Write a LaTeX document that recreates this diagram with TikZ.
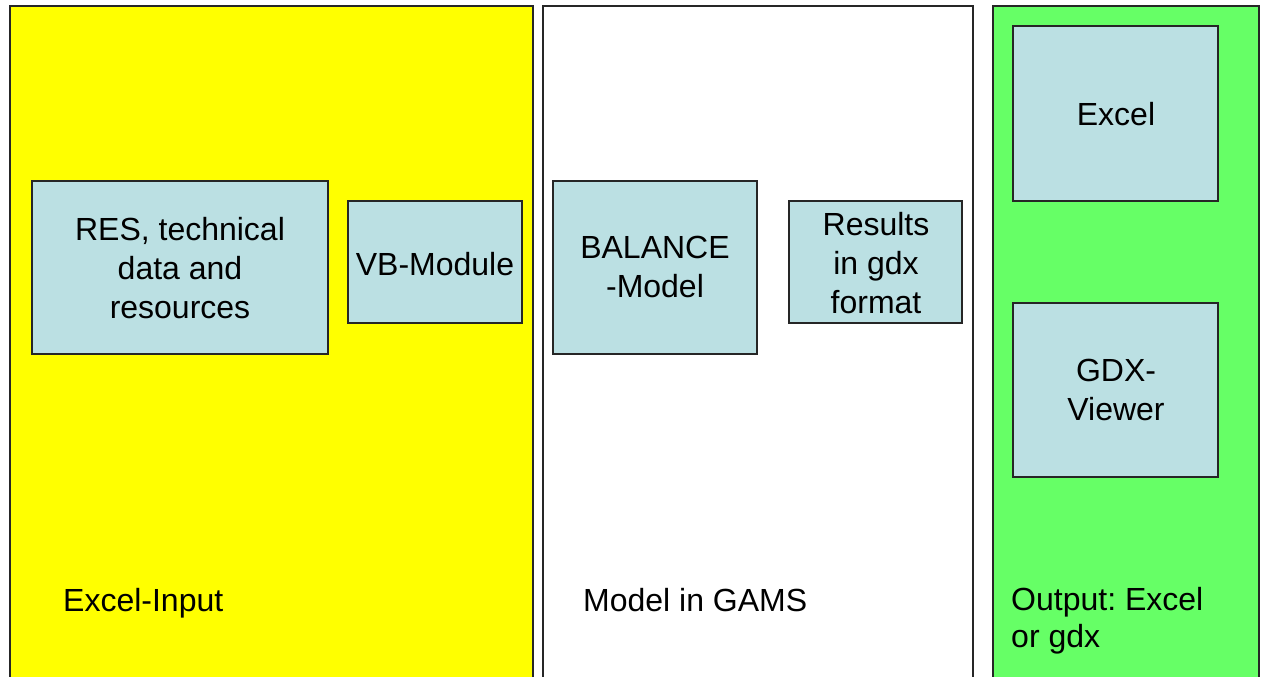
\documentclass[tikz,border=0pt]{standalone}
\usepackage{fontspec}
\setmainfont{Liberation Sans}
\definecolor{panelyellow}{HTML}{FFFF00}
\definecolor{panelgreen}{HTML}{66FF66}
\definecolor{boxblue}{HTML}{BBE0E3}
\begin{document}
\frenchspacing
\begin{tikzpicture}[x=1pt,y=-1pt,
  panel/.style={draw=black!85, line width=2pt},
  box/.style={draw=black!85, line width=1.2pt, fill=boxblue},
  boxtext/.style={align=center, font=\fontsize{32}{39}\selectfont, inner sep=0pt},
  lbl/.style={anchor=west, align=left, font=\fontsize{32}{37}\selectfont, inner sep=0pt}]
\useasboundingbox (0,0) rectangle (1262,677);
\clip (0,0) rectangle (1262,677);
\fill[white] (0,0) rectangle (1262,677);
% panels
\draw[panel, fill=panelyellow] (10,6) rectangle (533,700);
\draw[panel, fill=white] (543,6) rectangle (973,700);
\draw[panel, fill=panelgreen] (993,6) rectangle (1259,700);
% boxes
\draw[box] (32,181) rectangle (328,354);
\node[boxtext] (res) at (180,268) {RES, technical\\data and\\resources};
\draw[box] (348,201) rectangle (522,323);
\node[boxtext] (vb) at (435,264) {VB-Module};
\draw[box] (553,181) rectangle (757,354);
\node[boxtext] (bal) at (655,267) {BALANCE\\-Model};
\draw[box] (789,201) rectangle (962,323);
\node[boxtext] (resg) at (876,263) {Results\\in gdx\\format};
\draw[box] (1013,26) rectangle (1218,201);
\node[boxtext] (xl) at (1116,114) {Excel};
\draw[box] (1013,303) rectangle (1218,477);
\node[boxtext] (gdx) at (1116,390) {GDX-\\Viewer};
% labels
\node[lbl] (l1) at (63,603) {Excel-Input};
\node[lbl] (l2) at (583,600) {Model in GAMS};
\node[lbl, anchor=north west] (l3) at (1011,587) {Output: Excel\\or gdx};
\end{tikzpicture}
\end{document}
